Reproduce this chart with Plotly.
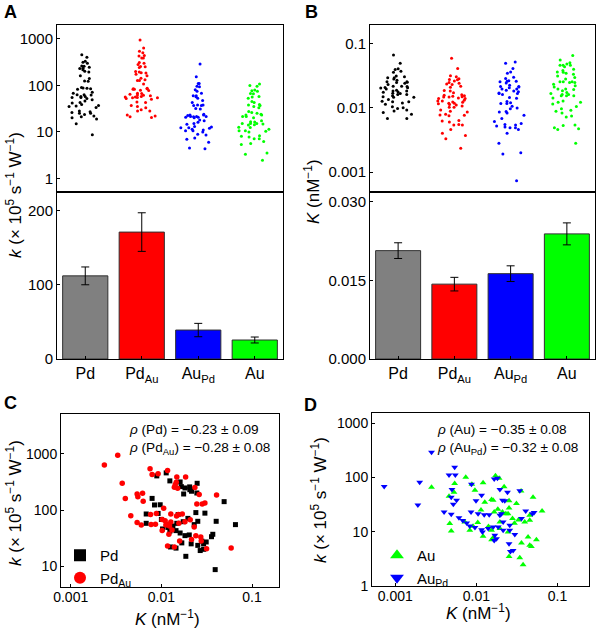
import plotly.graph_objects as go

W, H = 596, 629

# ---------------- data ----------------
categories = ["Pd", "Pd<sub>Au</sub>", "Au<sub>Pd</sub>", "Au"]
dot_colors = ["#000000", "#ff0000", "#0000ff", "#00ff00"]
bar_colors = ["#808080", "#ff0000", "#0000ff", "#00ff00"]

k_mean = [112, 171, 39, 25.6]
k_err = [12, 26, 9, 4]
K_mean = [0.0207, 0.0143, 0.0163, 0.0239]
K_err = [0.0015, 0.0013, 0.0015, 0.0021]

pd_K = [0.0089, 0.0113, 0.0124, 0.0161, 0.0176, 0.0182, 0.0205, 0.0215, 0.0215, 0.0248,
        0.0246, 0.0079, 0.0084, 0.0097, 0.0068, 0.0068, 0.0092, 0.0100, 0.0103, 0.0124,
        0.0145, 0.0148, 0.0153, 0.0174, 0.0196, 0.0230, 0.0240, 0.0302, 0.0252, 0.0161,
        0.0182, 0.0168, 0.0203, 0.0279, 0.0292, 0.0292, 0.0268, 0.0252, 0.0357, 0.0369,
        0.0402, 0.0492, 0.0656, 0.0126, 0.0145, 0.0186, 0.0392, 0.0134, 0.0213, 0.0118,
        0.0312, 0.0166, 0.0206]
pd_k = [405, 458, 330, 316, 193, 247, 258, 234, 216, 299,
        201, 161, 123, 124, 85, 58, 87, 68, 46, 42,
        43, 58, 83, 62, 71, 55, 90, 88, 63, 39,
        35, 26, 36, 28, 25, 20, 19, 23.5, 33.5, 37,
        63, 141, 55, 22, 21, 15, 8.7, 52, 25, 49,
        27, 261, 230]

pdau_K = [0.00235, 0.0033, 0.0037, 0.0040, 0.0054, 0.0055, 0.0062, 0.0063, 0.0046, 0.0054,
          0.0060, 0.0076, 0.0077, 0.0075, 0.0079, 0.0092, 0.0117, 0.0148, 0.0146, 0.0185,
          0.0139, 0.0151, 0.0142, 0.0088, 0.0106, 0.0102, 0.0115, 0.0123, 0.0112, 0.0127,
          0.0147, 0.0154, 0.0156, 0.0182, 0.0102, 0.0121, 0.0159, 0.0117, 0.0139, 0.0208,
          0.0230, 0.0240, 0.0272, 0.0246, 0.0261, 0.0282, 0.0302, 0.0406, 0.0588, 0.0315,
          0.0275, 0.0215, 0.0127, 0.0170, 0.0110, 0.0234, 0.0086, 0.0131]
pdau_k = [636, 946, 299, 161, 193, 173, 199, 143, 79, 60,
          54, 83, 55, 540, 428, 440, 504, 388, 312, 388,
          254, 244, 283, 87, 107, 68, 56, 52, 54, 61,
          78, 83, 58, 62, 43, 37, 28, 23, 22, 67,
          50, 35, 33, 128, 188, 128, 133, 185, 21, 20.4,
          28, 30, 85, 85, 64.5, 251, 56, 44]

aupd_K = [0.00073, 0.0020, 0.0019, 0.0028, 0.0054, 0.0046, 0.0055, 0.0050, 0.0057, 0.0052,
          0.0040, 0.0049, 0.0061, 0.0087, 0.0116, 0.0099, 0.0166, 0.0182, 0.0195, 0.0242,
          0.0343, 0.0210, 0.0224, 0.0144, 0.0125, 0.0086, 0.0076, 0.0083, 0.0096, 0.0116,
          0.0140, 0.0161, 0.0186, 0.0258, 0.0119, 0.0169, 0.0166, 0.0177, 0.0253, 0.0284,
          0.0263, 0.0214, 0.0204, 0.0195, 0.0360, 0.0406, 0.0491, 0.0515, 0.0298, 0.0258,
          0.0214, 0.0105, 0.0049, 0.0068]
aupd_k = [68, 81, 31, 290, 153, 110, 110, 60, 38, 32,
          23, 21, 18, 75, 47, 37, 93, 96, 60, 53,
          57, 38, 37, 20.6, 20.6, 23, 14.5, 12.7, 11.9, 10.9,
          11.4, 12.2, 12.2, 13.1, 9.9, 8.6, 6.9, 7.4, 6.0, 4.5,
          4.3, 15.1, 21.5, 20.1, 17.4, 24, 21.5, 22.5, 8.9, 10.6,
          10.6, 21.5, 43, 16]

au_K = [0.0028, 0.0054, 0.0046, 0.0047, 0.0049, 0.0074, 0.0096, 0.0121, 0.0154, 0.0161,
        0.0172, 0.0191, 0.0220, 0.0253, 0.0312, 0.0500, 0.0646, 0.0455, 0.0455, 0.0356,
        0.0114, 0.0166, 0.0231, 0.0246, 0.0253, 0.0210, 0.0279, 0.0395, 0.0195, 0.0072,
        0.0091, 0.0083, 0.0121, 0.0154, 0.0161, 0.0195, 0.0246, 0.0360, 0.0434, 0.0455,
        0.0477, 0.0550, 0.0253, 0.0343, 0.0377, 0.0154, 0.0127, 0.0184, 0.0104, 0.0141,
        0.0330, 0.0295, 0.0088, 0.0053]
au_k = [66, 77, 45, 14.1, 10.3, 100, 58, 80, 39, 38,
        107, 96, 67, 37, 33, 43, 24, 20, 16.2, 56,
        25, 23, 21.5, 21.5, 27.4, 23, 17.4, 15.1, 15.1, 15.1,
        12.6, 10.6, 8.2, 7.1, 7.7, 11.4, 9.9, 6.2, 8.0, 5.6,
        5.35, 7.1, 3.5, 3.3, 2.45, 10.6, 35, 26, 14.7, 12.4,
        16.4, 14.3, 75, 53]

rho_C = ["<i>ρ</i> (Pd) = −0.23 ± 0.09", "<i>ρ</i> (Pd<sub>Au</sub>) = −0.28 ± 0.08"]
rho_D = ["<i>ρ</i> (Au) = −0.35 ± 0.08", "<i>ρ</i> (Au<sub>Pd</sub>) = −0.32 ± 0.08"]

k_title = "<i>k</i> (× 10<sup>5</sup> s<sup>−1</sup> W<sup>−1</sup>)"
K_title = "<i>K</i> (nM<sup>−1</sup>)"

FONT = "Liberation Sans, Arial, sans-serif"

# ---------------- helpers ----------------
def xd(a, b):
    return [a / W, b / W]

def yd(top, bottom):
    return [1 - bottom / H, 1 - top / H]

k_sets = [pd_k, pdau_k, aupd_k, au_k]
K_sets = [pd_K, pdau_K, aupd_K, au_K]

fig = go.Figure()

# swarms (A top: k, B top: K)
for sets, xa, ya in [(k_sets, "x", "y"), (K_sets, "x3", "y3")]:
    for cat, vals, col in zip(categories, sets, dot_colors):
        fig.add_trace(go.Box(
            x=[cat] * len(vals), y=vals, boxpoints="all", jitter=1, pointpos=0,
            width=0.68, fillcolor="rgba(0,0,0,0)",
            line=dict(width=0, color="rgba(0,0,0,0)"),
            marker=dict(color=col, size=3), xaxis=xa, yaxis=ya, showlegend=False))

# bars
for means, errs, xa, ya in [(k_mean, k_err, "x2", "y2"), (K_mean, K_err, "x4", "y4")]:
    fig.add_trace(go.Bar(
        x=categories, y=means, width=0.8,
        marker=dict(color=bar_colors, line=dict(color="#303030", width=1)),
        error_y=dict(type="data", array=errs, color="#000000", thickness=1, width=4),
        xaxis=xa, yaxis=ya, showlegend=False))

# scatter C
fig.add_trace(go.Scatter(x=pd_K, y=pd_k, mode="markers", name="Pd",
                         marker=dict(symbol="square", color="#000000", size=5),
                         xaxis="x5", yaxis="y5", legend="legend"))
fig.add_trace(go.Scatter(x=pdau_K, y=pdau_k, mode="markers", name="Pd<sub>Au</sub>",
                         marker=dict(symbol="circle", color="#ff0000", size=5.5),
                         xaxis="x5", yaxis="y5", legend="legend"))
# scatter D
fig.add_trace(go.Scatter(x=au_K, y=au_k, mode="markers", name="Au",
                         marker=dict(symbol="triangle-up", color="#00ff00", size=6),
                         xaxis="x6", yaxis="y6", legend="legend2"))
fig.add_trace(go.Scatter(x=aupd_K, y=aupd_k, mode="markers", name="Au<sub>Pd</sub>",
                         marker=dict(symbol="triangle-down", color="#0000ff", size=6),
                         xaxis="x6", yaxis="y6", legend="legend2"))

axis_common = dict(showline=True, linecolor="#000000", linewidth=1, mirror=True,
                   ticks="inside", ticklen=3, tickcolor="#000000", showgrid=False,
                   zeroline=False, automargin=False,
                   tickfont=dict(size=15, color="#000000"))

cat_range = [-0.5, 3.5]
small_tick = dict(size=14, color="#000000")

layout = dict(
    width=W, height=H, margin=dict(l=0, r=0, t=0, b=0, autoexpand=False),
    paper_bgcolor="white", plot_bgcolor="white",
    font=dict(family=FONT, color="#000000"),
    boxmode="overlay",
    # A top
    xaxis=dict(axis_common, domain=xd(57, 283), anchor="y", range=cat_range,
               showticklabels=False, ticks=""),
    yaxis=dict(axis_common, domain=yd(25, 192), anchor="x", type="log",
               range=[-0.295, 3.30], tickvals=[1, 10, 100, 1000],
               ticktext=["1", "10", "100", "1000"]),
    # A bottom
    xaxis2=dict(axis_common, domain=xd(57, 283), anchor="y2", range=cat_range,
                tickfont=dict(size=16, color="#000000")),
    yaxis2=dict(axis_common, domain=yd(192, 359), anchor="x2", range=[0, 225],
                tickvals=[0, 100, 200]),
    # B top
    xaxis3=dict(axis_common, domain=xd(370, 595), anchor="y3", range=cat_range,
                showticklabels=False, ticks=""),
    yaxis3=dict(axis_common, domain=yd(25, 192), anchor="x3", type="log",
                range=[-3.31, -0.715], tickvals=[0.001, 0.01, 0.1],
                ticktext=["0.001", "0.01", "0.1"]),
    # B bottom
    xaxis4=dict(axis_common, domain=xd(370, 595), anchor="y4", range=cat_range,
                tickfont=dict(size=16, color="#000000")),
    yaxis4=dict(axis_common, domain=yd(192, 359), anchor="x4", range=[0, 0.0319],
                tickvals=[0, 0.015, 0.030], ticktext=["0.000", "0.015", "0.030"]),
    # C
    xaxis5=dict(axis_common, domain=xd(61, 279), anchor="y5", type="log",
                range=[-3.107, -0.703], tickvals=[0.001, 0.01, 0.1],
                ticktext=["0.001", "0.01", "0.1"], tickfont=small_tick,
                ticklabelstandoff=-3),
    yaxis5=dict(axis_common, domain=yd(414, 587), anchor="x5", type="log",
                range=[0.63, 3.709], tickvals=[10, 100, 1000],
                ticktext=["10", "100", "1000"], tickfont=small_tick),
    # D
    xaxis6=dict(axis_common, domain=xd(372, 589), anchor="y6", type="log",
                range=[-3.287, -0.611], tickvals=[0.001, 0.01, 0.1],
                ticktext=["0.001", "0.01", "0.1"], tickfont=small_tick,
                ticklabelstandoff=-3),
    yaxis6=dict(axis_common, domain=yd(413, 586), anchor="x6", type="log",
                range=[0, 3.185], tickvals=[1, 10, 100, 1000],
                ticktext=["1", "10", "100", "1000"], tickfont=small_tick),
    legend=dict(x=60 / W, y=1 - 539 / H, xanchor="left", yanchor="top",
                bgcolor="rgba(0,0,0,0)", font=dict(size=15), itemsizing="constant",
                tracegroupgap=0),
    legend2=dict(x=377 / W, y=1 - 539 / H, xanchor="left", yanchor="top",
                 bgcolor="rgba(0,0,0,0)", font=dict(size=15), itemsizing="constant",
                 tracegroupgap=0),
)
fig.update_layout(**layout)

ann = []
def add_text(text, x, y, size, xanchor="center", angle=0, bold=False, align="center"):
    ann.append(dict(text=("<b>%s</b>" % text) if bold else text, x=x / W, y=1 - y / H,
                    xref="paper", yref="paper", showarrow=False, xanchor=xanchor,
                    yanchor="middle", textangle=angle, align=align,
                    font=dict(size=size, family=FONT, color="#000000")))

# panel letters
add_text("A", 10, 12, 18, bold=True)
add_text("B", 311, 12, 18, bold=True)
add_text("C", 10, 403, 18, bold=True)
add_text("D", 310, 405, 18, bold=True)
# axis titles
add_text(k_title, 14, 195, 17, angle=-90)
add_text(K_title, 312, 192, 17, angle=-90)
add_text(k_title, 14, 503, 17, angle=-90)
add_text(k_title, 319, 500, 17, angle=-90)
add_text(K_title, 167, 618, 17)
add_text(K_title, 478, 612, 17)
# correlation texts
add_text("<br>".join(rho_C), 127, 439, 13.6, xanchor="left", align="left")
add_text("<br>".join(rho_D), 435, 439, 13.6, xanchor="left", align="left")

fig.update_layout(annotations=ann)
fig.write_html("out.html", config={"displayModeBar": False},
               post_script="document.body.style.margin='0';")
